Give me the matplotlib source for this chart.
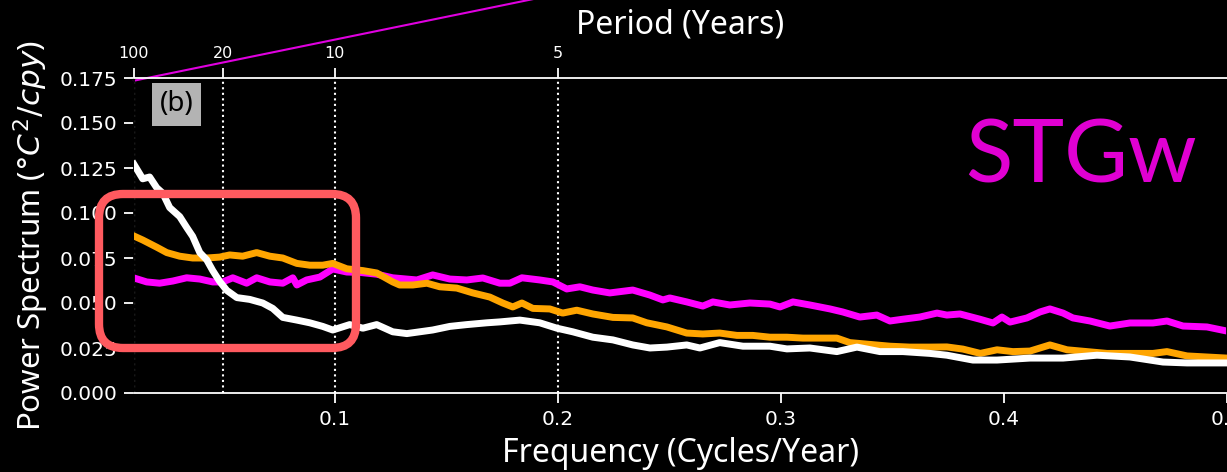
import matplotlib.pyplot as plt
from matplotlib.patches import FancyBboxPatch
from matplotlib.transforms import IdentityTransform

plt.rcParams['font.family'] = ['Noto Sans', 'DejaVu Sans']
plt.rcParams['mathtext.fontset'] = 'dejavusans'

# Spectra (frequency in cycles/year, power in degC^2/cpy)
freq_white = [0.010, 0.0139, 0.0170, 0.0202, 0.0229, 0.0260, 0.0305, 0.0336, 0.0363,
              0.0395, 0.0426, 0.0453, 0.0484, 0.0516, 0.0561, 0.0619, 0.0677, 0.0722,
              0.0767, 0.0830, 0.0888, 0.0946, 0.0991, 0.1067, 0.1126, 0.1188, 0.1260,
              0.1323, 0.1381, 0.1439, 0.1516, 0.1592, 0.1682, 0.1740, 0.1830, 0.1919,
              0.1996, 0.2067, 0.2157, 0.2247, 0.2336, 0.2413, 0.2489, 0.2578, 0.2637,
              0.2726, 0.2830, 0.2951, 0.3027, 0.3130, 0.3251, 0.3341, 0.3444, 0.3547,
              0.3668, 0.3744, 0.3861, 0.3969, 0.4117, 0.4265, 0.4417, 0.4565, 0.4713,
              0.4821, 0.4910, 0.5000]
power_white = [0.127, 0.119, 0.120, 0.114, 0.111, 0.103, 0.098, 0.092, 0.087,
               0.078, 0.074, 0.068, 0.062, 0.057, 0.053, 0.052, 0.050, 0.047,
               0.042, 0.0405, 0.039, 0.037, 0.035, 0.038, 0.036, 0.038, 0.034,
               0.033, 0.034, 0.035, 0.037, 0.038, 0.039, 0.0395, 0.0405, 0.039,
               0.036, 0.034, 0.031, 0.0295, 0.0267, 0.025, 0.0255, 0.0267, 0.025,
               0.028, 0.026, 0.026, 0.0245, 0.025, 0.023, 0.0255, 0.023, 0.023,
               0.022, 0.021, 0.0183, 0.0183, 0.0194, 0.0194, 0.021, 0.020, 0.0172,
               0.0167, 0.0167, 0.0167]

freq_orange = [0.010, 0.0139, 0.0202, 0.0247, 0.0305, 0.0363, 0.0426, 0.0484, 0.0529,
               0.0587, 0.0650, 0.0709, 0.0767, 0.0830, 0.0888, 0.0946, 0.0991, 0.1054,
               0.1126, 0.1188, 0.1260, 0.1291, 0.1350, 0.1413, 0.1471, 0.1547, 0.1619,
               0.1695, 0.1753, 0.1798, 0.1839, 0.1888, 0.1964, 0.2022, 0.2085, 0.2157,
               0.2247, 0.2336, 0.2399, 0.2489, 0.2578, 0.2650, 0.2726, 0.2803, 0.2874,
               0.2951, 0.3027, 0.3099, 0.3175, 0.3251, 0.3309, 0.3399, 0.3489, 0.3578,
               0.3668, 0.3744, 0.3816, 0.3894, 0.3969, 0.4040, 0.4117, 0.4206, 0.4283,
               0.4372, 0.4462, 0.4565, 0.4668, 0.4731, 0.4821, 0.4910, 0.5000]
power_orange = [0.0872, 0.085, 0.081, 0.078, 0.076, 0.075, 0.075, 0.0755, 0.0767,
                0.076, 0.078, 0.076, 0.075, 0.072, 0.071, 0.071, 0.072, 0.069,
                0.068, 0.0667, 0.0617, 0.060, 0.060, 0.061, 0.059, 0.0583, 0.0556,
                0.0533, 0.050, 0.0478, 0.050, 0.047, 0.0467, 0.0444, 0.046, 0.0439,
                0.042, 0.0417, 0.039, 0.0367, 0.0333, 0.0328, 0.0333, 0.032, 0.032,
                0.031, 0.031, 0.0305, 0.0305, 0.0305, 0.028, 0.027, 0.026, 0.0255,
                0.0255, 0.0256, 0.0244, 0.022, 0.024, 0.023, 0.0233, 0.0267, 0.024,
                0.023, 0.022, 0.022, 0.022, 0.023, 0.0206, 0.020, 0.0194]

freq_magenta = [0.010, 0.0157, 0.0215, 0.0274, 0.0336, 0.0395, 0.0453, 0.0498, 0.0543,
                0.0605, 0.0650, 0.0709, 0.0767, 0.0812, 0.0830, 0.0874, 0.0933, 0.0991,
                0.1054, 0.1112, 0.1188, 0.1260, 0.1368, 0.1439, 0.1516, 0.1592, 0.1664,
                0.1740, 0.1785, 0.1839, 0.1919, 0.1978, 0.2040, 0.2099, 0.2157, 0.2233,
                0.2336, 0.2413, 0.2471, 0.2502, 0.2578, 0.2650, 0.2695, 0.2771, 0.2861,
                0.2951, 0.2996, 0.3054, 0.3130, 0.3220, 0.3278, 0.3354, 0.3430, 0.3489,
                0.3547, 0.3623, 0.3700, 0.3744, 0.3803, 0.3892, 0.3951, 0.3991, 0.4027,
                0.4103, 0.4161, 0.4206, 0.4265, 0.4309, 0.4386, 0.4475, 0.4565, 0.4668,
                0.4731, 0.4803, 0.4910, 0.5000]
power_magenta = [0.0639, 0.0617, 0.061, 0.0622, 0.064, 0.0633, 0.0617, 0.0617, 0.064,
                 0.061, 0.064, 0.0617, 0.061, 0.064, 0.060, 0.0628, 0.0644, 0.0689,
                 0.0672, 0.067, 0.066, 0.064, 0.0628, 0.0656, 0.0633, 0.0628, 0.0639,
                 0.061, 0.061, 0.064, 0.0628, 0.0617, 0.0578, 0.059, 0.0572, 0.0556,
                 0.0572, 0.0544, 0.0517, 0.0528, 0.0506, 0.0483, 0.0506, 0.0489, 0.050,
                 0.0494, 0.0478, 0.0506, 0.0489, 0.0467, 0.045, 0.0422, 0.0433, 0.040,
                 0.041, 0.0422, 0.0444, 0.0433, 0.0439, 0.041, 0.0389, 0.0422, 0.0394,
                 0.0417, 0.045, 0.0467, 0.0444, 0.0417, 0.040, 0.0372, 0.0389, 0.0389,
                 0.040, 0.0372, 0.0367, 0.0344]

# Period axis on top
period_ticks = [100, 20, 10, 5]
freq_ticks = [0.1, 0.2, 0.3, 0.4, 0.5]
power_ticks = [0.0, 0.025, 0.05, 0.075, 0.1, 0.125, 0.15, 0.175]

# Stray magenta line that runs off the top of the panel
stray_freq = [0.010, 0.30]
stray_power = [0.1735, 0.2470]


def main() -> None:
    fig = plt.figure(figsize=(12.27, 4.72), dpi=100, facecolor='black')
    ax = fig.add_axes([134 / 1227, 1 - 393 / 472, 1 - 134 / 1227, 315 / 472])
    ax.set_facecolor('black')

    ax.plot(freq_magenta, power_magenta, color='#ff00ff', lw=5, zorder=2)
    ax.plot(freq_orange, power_orange, color='#ffa500', lw=5, zorder=3)
    ax.plot(freq_white, power_white, color='white', lw=5, zorder=4)

    # Dotted guide lines at the labelled periods
    for p in period_ticks:
        ax.axvline(1 / p, color='white', ls=':', lw=1.5, zorder=1)

    ax.plot(stray_freq, stray_power, color='#e000e0', lw=1.5, clip_on=False)

    ax.set_xlim(0.01, 0.5)
    ax.set_ylim(0, 0.175)
    ax.set_xticks(freq_ticks)
    ax.set_xticklabels([f"{f:g}" for f in freq_ticks])
    ax.set_yticks(power_ticks)
    ax.set_yticklabels([f"{v:.3f}" for v in power_ticks])
    ax.tick_params(colors='white', width=1.3, length=7, pad=5)
    for lab in ax.get_xticklabels() + ax.get_yticklabels():
        lab.set_family('DejaVu Sans')
        lab.set_fontsize(14.5)

    for side, spine in ax.spines.items():
        spine.set_color('white' if side in ('top', 'bottom') else 'black')
        spine.set_linewidth(1.3)

    ax.set_xlabel("Frequency (Cycles/Year)", color='white', fontsize=23, labelpad=6)
    ax.set_ylabel(r"Power Spectrum ($\degree C^2/cpy$)", color='white', fontsize=22.5,
                  labelpad=6)

    ax_top = ax.twiny()
    ax_top.set_xlim(ax.get_xlim())
    ax_top.set_xticks([1 / p for p in period_ticks])
    ax_top.set_xticklabels([str(p) for p in period_ticks], family='DejaVu Sans',
                           fontsize=11.5)
    ax_top.tick_params(colors='white', width=1.3, length=7, pad=5)
    for spine in ax_top.spines.values():
        spine.set_visible(False)
    ax_top.set_xlabel("Period (Years)", color='white', fontsize=23, labelpad=9)

    ax.text(0.039, 0.916, "(b)", transform=ax.transAxes, ha='center', va='center',
            fontsize=20, color='black',
            bbox=dict(facecolor='#b3b3b3', edgecolor='none', pad=5.5))

    ax.text(0.760, 0.667, "STGw", transform=ax.transAxes, ha='left', va='baseline',
            fontsize=63, color='#e000d2', family=['Lato', 'DejaVu Sans'])

    # Highlight box around the low-frequency part
    box = FancyBboxPatch((99, 472 - 348), 257, 154,
                         boxstyle="round,pad=0,rounding_size=24",
                         transform=IdentityTransform(), fill=False,
                         edgecolor='#ff5a5f', lw=6, zorder=10)
    fig.patches.append(box)

    fig.savefig("out.png", dpi=100, facecolor='black')


if __name__ == "__main__":
    main()
